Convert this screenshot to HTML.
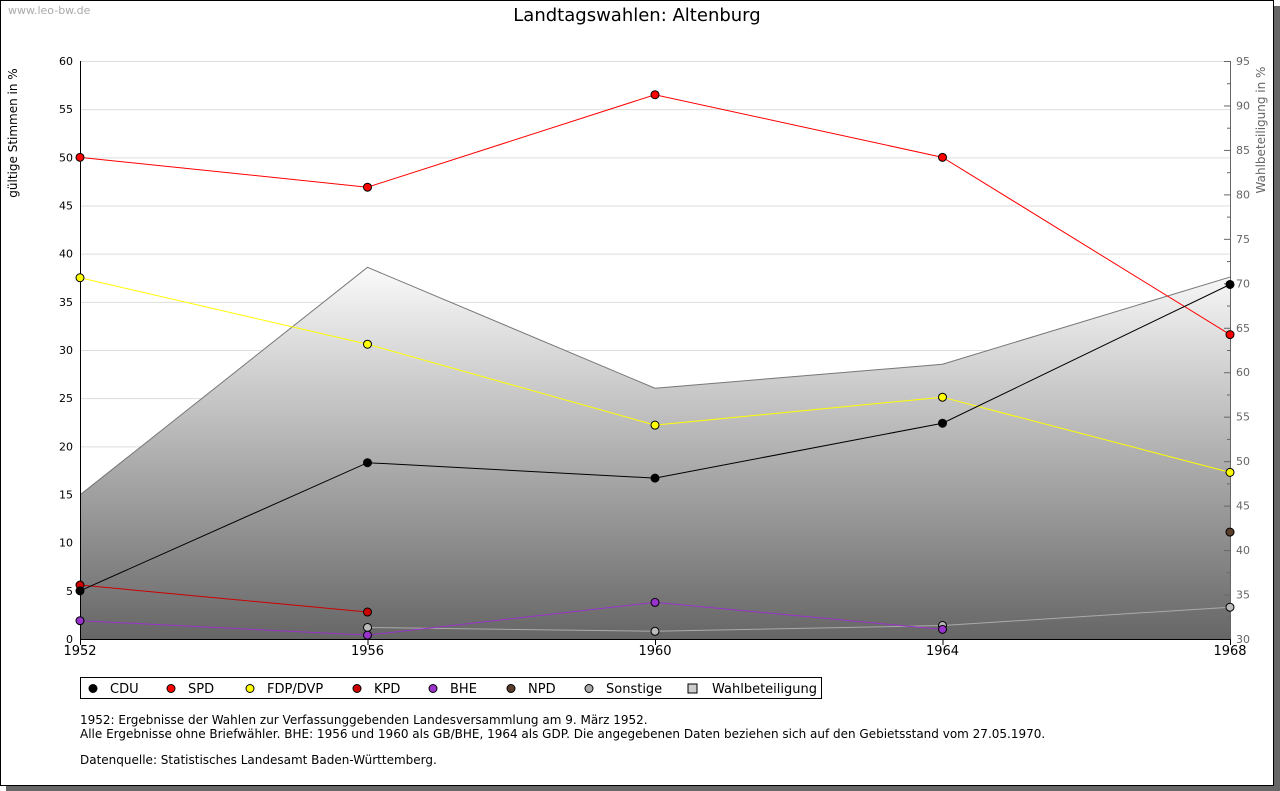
<!DOCTYPE html>
<html><head><meta charset="utf-8">
<style>
body{margin:0;background:#fff;font-family:"DejaVu Sans",sans-serif;}
#wrap{position:relative;width:1280px;height:791px;overflow:hidden;}
</style></head>
<body>
<div id="wrap">
<svg id="chart" width="1280" height="791" xmlns="http://www.w3.org/2000/svg" font-family="DejaVu Sans, sans-serif">
<defs>
<linearGradient id="turnGrad" x1="0" y1="255" x2="0" y2="639" gradientUnits="userSpaceOnUse">
<stop offset="0" stop-color="#ffffff"/><stop offset="1" stop-color="#666666"/>
</linearGradient>
</defs>
<rect x="6" y="6" width="1274" height="785" fill="#666"/>
<rect x="0.5" y="0.5" width="1273" height="785" fill="#fff" stroke="#000"/>
<text x="8" y="14" font-size="11" fill="#aaa">www.leo-bw.de</text>
<text x="637" y="21" font-size="18" text-anchor="middle">Landtagswahlen: Altenburg</text>
<text transform="translate(17,133) rotate(-90)" font-size="12" text-anchor="middle">gültige Stimmen in %</text>
<text transform="translate(1265,130) rotate(-90)" font-size="12" fill="#666" text-anchor="middle">Wahlbeteiligung in %</text>
<g id="grid"></g><g id="area"></g><g id="axes"></g><g id="series"></g><g id="legend"></g>
<g font-size="12">
<text x="80" y="724">1952: Ergebnisse der Wahlen zur Verfassunggebenden Landesversammlung am 9. März 1952.</text>
<text x="80" y="738">Alle Ergebnisse ohne Briefwähler. BHE: 1956 und 1960 als GB/BHE, 1964 als GDP. Die angegebenen Daten beziehen sich auf den Gebietsstand vom 27.05.1970.</text>
<text x="80" y="764">Datenquelle: Statistisches Landesamt Baden-Württemberg.</text>
</g>
</svg>
</div>
<script>
const years=[1952,1956,1960,1964,1968];
const cdu=[5.0,18.3,16.7,22.4,36.8];
const spd=[50.0,46.9,56.5,50.0,31.6];
const fdp=[37.5,30.6,22.2,25.1,17.3];
const kpd=[5.6,2.8,null,null,null];
const bhe=[1.9,0.4,3.8,1.0,null];
const npd=[null,null,null,null,11.1];
const sonstige=[null,1.2,0.8,1.4,3.3];
const turnout=[46.2,71.8,58.2,60.9,70.7];
const leftTicks=[0,5,10,15,20,25,30,35,40,45,50,55,60];
const rightTicks=[30,35,40,45,50,55,60,65,70,75,80,85,90,95];

const NS='http://www.w3.org/2000/svg';
const X0=80,X1=1230,Y0=639,Y1=61;
const xs=y=>X0+(y-1952)/(1968-1952)*(X1-X0);
const yl=v=>Y0-v/60*(Y0-Y1);
const yr=v=>Y0-(v-30)/65*(Y0-Y1);
function mk(tag,attrs,parent){const e=document.createElementNS(NS,tag);for(const k in attrs)e.setAttribute(k,attrs[k]);parent.appendChild(e);return e;}
const grid=document.getElementById('grid'),area=document.getElementById('area'),axes=document.getElementById('axes'),ser=document.getElementById('series'),leg=document.getElementById('legend');

leftTicks.forEach(t=>{
 if(t>0){const l=mk('line',{x1:X0,x2:X1,y1:yl(t)+0.5,y2:yl(t)+0.5,stroke:'#ddd'},grid);
 
 }
 const tx=mk('text',{x:73,y:yl(t)+4,'font-size':11,'text-anchor':'end'},axes);tx.textContent=t;
 
 
});
rightTicks.forEach(t=>{
 mk('line',{x1:1224,x2:1230,y1:yr(t)+0.5,y2:yr(t)+0.5,stroke:'#666'},axes);
 if(t<95)mk('line',{x1:1227,x2:1230,y1:yr(t+2.5)+0.5,y2:yr(t+2.5)+0.5,stroke:'#666'},axes);
 const tx=mk('text',{x:1236,y:yr(t)+4,'font-size':11,fill:'#666'},axes);tx.textContent=t;
 
 
});
let d='M'+xs(years[0])+','+Y0;
years.forEach((y,i)=>d+=' L'+xs(y)+','+yr(turnout[i]));
d+=' L'+xs(years[years.length-1])+','+Y0+' Z';
const ar=mk('path',{d:d,fill:'url(#turnGrad)'},area);


const al=mk('polyline',{points:years.map((y,i)=>xs(y)+','+yr(turnout[i])).join(' '),fill:'none',stroke:'#777'},area);


mk('line',{x1:X0+0.5,x2:X0+0.5,y1:Y1,y2:Y0,stroke:'#000'},axes);
mk('line',{x1:X1+0.5,x2:X1+0.5,y1:Y1,y2:Y0,stroke:'#666'},axes);
mk('line',{x1:X0,x2:X1,y1:Y0+0.5,y2:Y0+0.5,stroke:'#000'},axes);
years.forEach(y=>{
 mk('line',{x1:xs(y)+0.5,x2:xs(y)+0.5,y1:Y0,y2:Y0+6,stroke:'#000'},axes);
 const tx=mk('text',{x:xs(y),y:Y0+16,'font-size':13,'text-anchor':'middle'},axes);tx.textContent=y;
 
 
});
const series=[
 ['sonstige',sonstige,'#bbb','#aaa'],
 ['npd',npd,'#5a3e2b','#5a3e2b'],
 ['bhe',bhe,'#9933cc','#9933cc'],
 ['kpd',kpd,'#cc0000','#cc0000'],
 ['fdp',fdp,'#ffff00','#ffff00'],
 ['spd',spd,'#ff0000','#ff0000'],
 ['cdu',cdu,'#000','#000']
];
series.forEach(([name,vals,fill,stroke])=>{
 const g=mk('g',{},ser);
 
 
 const pts=[];vals.forEach((v,i)=>{if(v!==null)pts.push(xs(years[i])+','+yl(v));});
 if(pts.length>1){mk('polyline',{points:pts.join(' '),fill:'none',stroke:stroke,'stroke-width':1},g);}
 vals.forEach((v,i)=>{if(v===null)return;
  const c=mk('circle',{cx:xs(years[i]),cy:yl(v),r:4,fill:fill,stroke:'#000','stroke-width':1},g);
  
  
 });
});
mk('rect',{x:80.5,y:677.5,width:741,height:21,fill:'#fff',stroke:'#000'},leg);
const legItems=[['CDU','#000',90],['SPD','#ff0000',168],['FDP/DVP','#ffff00',247],['KPD','#cc0000',354],['BHE','#9933cc',430],['NPD','#5a3e2b',508],['Sonstige','#aaa',586],['Wahlbeteiligung','#ccc',692]];
legItems.forEach(([lab,col,x],i)=>{
 const g=mk('g',{},leg);
 
 
 if(i===7)mk('rect',{x:x-4,y:684,width:9,height:9,fill:col,stroke:'#000'},g);
 else mk('circle',{cx:x+3,cy:688.5,r:4,fill:col,stroke:'#000'},g);
 const t=mk('text',{x:x+20,y:693,'font-size':13},g);t.textContent=lab;
});
</script>
</body></html>
